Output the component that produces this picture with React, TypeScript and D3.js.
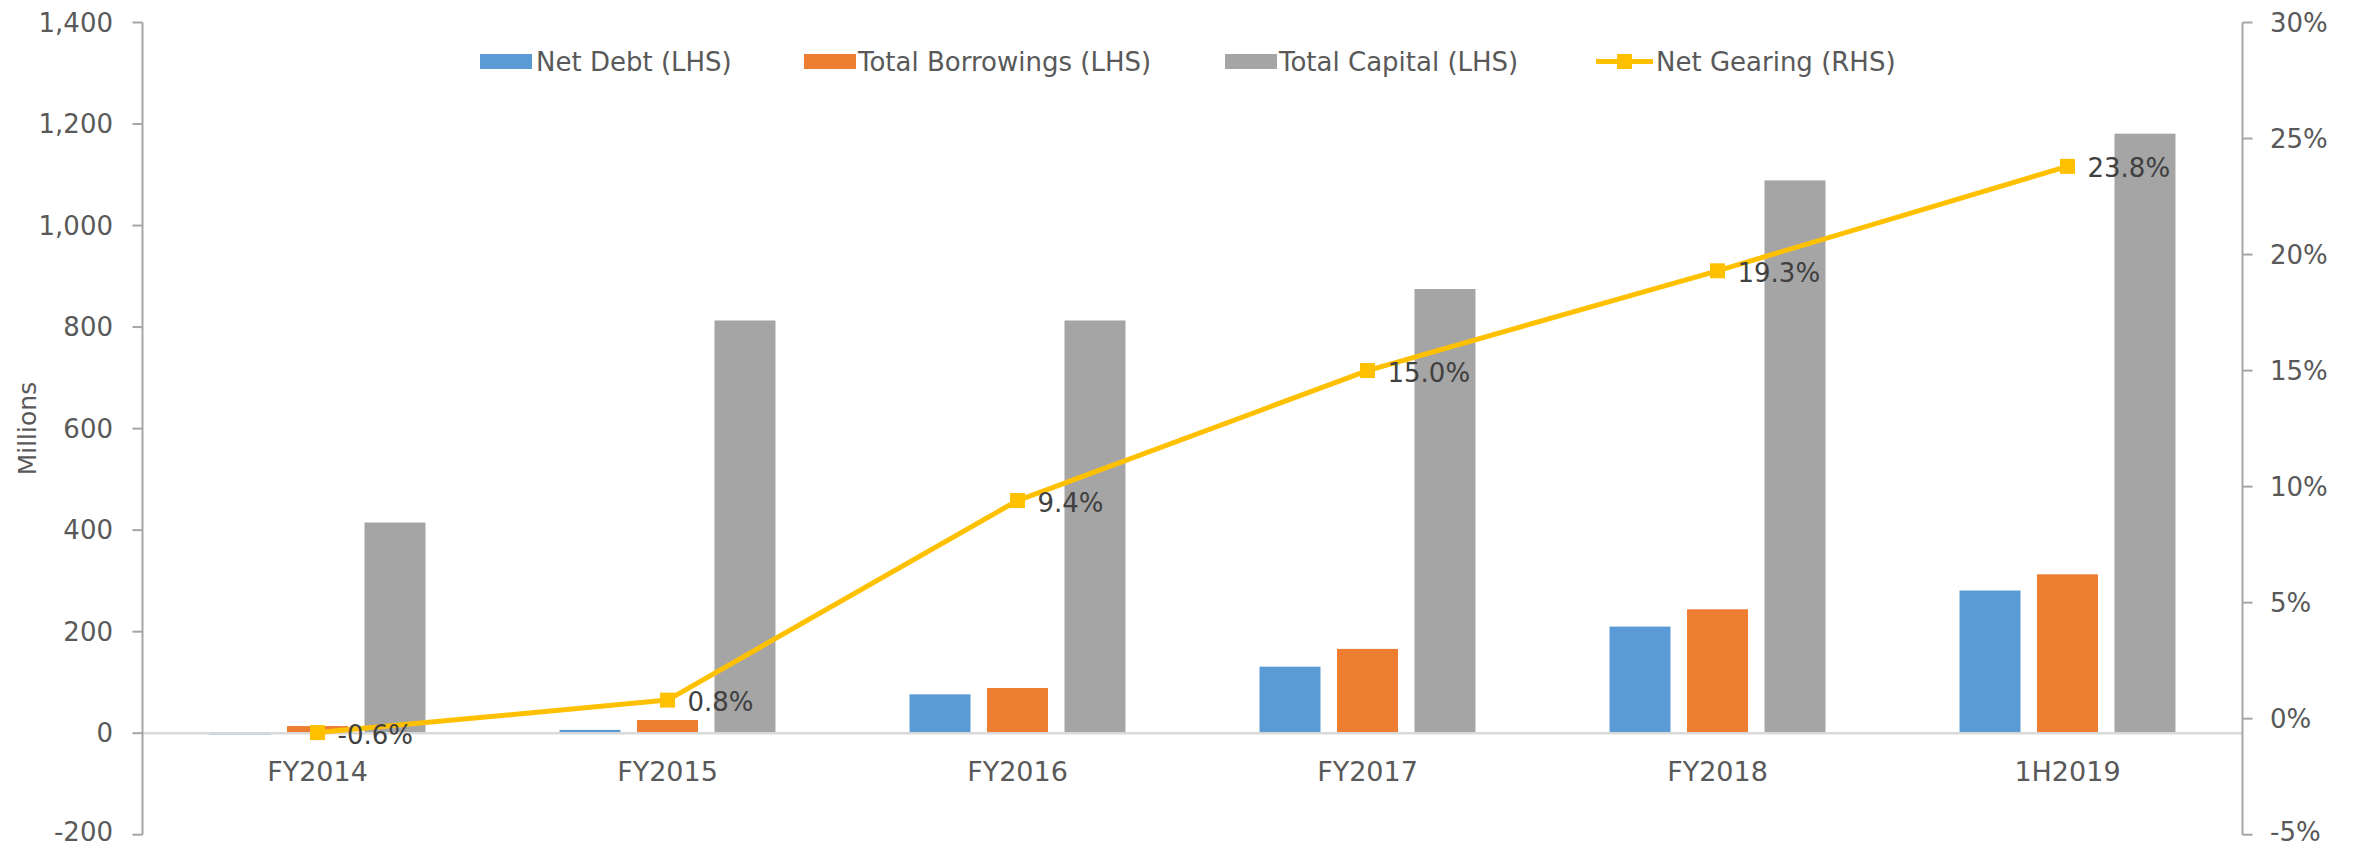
import React from "react";
import * as d3 from "d3";

const categories = ["FY2014", "FY2015", "FY2016", "FY2017", "FY2018", "1H2019"];
const netDebt = [-2.5, 6.5, 76.5, 131, 210, 281];
const totalBorrowings = [14, 26, 89, 166, 244, 313];
const totalCapital = [415, 813, 813, 875, 1089, 1181];
const netGearing = [-0.6, 0.8, 9.4, 15.0, 19.3, 23.8];
const leftTicks = [-200, 0, 200, 400, 600, 800, 1000, 1200, 1400];
const rightTicks = [-5, 0, 5, 10, 15, 20, 25, 30];
const seriesNames = ["Net Debt (LHS)", "Total Borrowings (LHS)", "Total Capital (LHS)"];
const lineName = "Net Gearing (RHS)";
const colors = ["#5B9BD5", "#ED7D31", "#A5A5A5"];
const lineColor = "#FFC000";

const W = 2354;
const H = 847;
const plotLeft = 142.5;
const plotRight = 2242.5;
const plotTop = 22.5;
const plotBottom = 834.7;
const FONT = "'DejaVu Sans', sans-serif";
const TEXT = "#595959";

const fmtLeft = (t: number) => (t < 0 ? "-" : "") + d3.format(",")(Math.abs(t));
const fmtRight = (t: number) => (t < 0 ? "-" : "") + `${Math.abs(t)}%`;

export default function App() {
  const x = d3.scaleBand<string>().domain(categories).range([plotLeft, plotRight]).paddingInner(0).paddingOuter(0);
  const yL = d3.scaleLinear().domain([-200, 1400]).range([plotBottom, plotTop]);
  const yR = d3.scaleLinear().domain([-5, 30]).range([plotBottom, plotTop]);
  const groupW = x.bandwidth() * 0.617;
  const x1 = d3.scaleBand<number>().domain([0, 1, 2]).range([-groupW / 2, groupW / 2]).paddingInner(0.213).paddingOuter(0);
  const series = [netDebt, totalBorrowings, totalCapital];
  const cx = (c: string) => (x(c) as number) + x.bandwidth() / 2;

  const line = d3
    .line<number>()
    .x((_, i) => cx(categories[i]))
    .y((d) => yR(d));

  const legendKeyX = [480, 804, 1225];
  const legendTextX = [536, 858, 1279];
  const legendLine = [1596, 1653];
  const legendLineText = 1656;
  const legendY = 61.5;
  const ms = 15;
  const labelY = (y: number) => Math.min(y, H - 15);

  return (
    <svg
      width={W}
      height={H}
      style={{ position: "absolute", left: 0, top: 0, background: "#fff" }}
      fontFamily={FONT}
    >
      {/* bars */}
      {series.map((vals, si) =>
        vals.map((v, i) => {
          const bx = cx(categories[i]) + (x1(si) as number);
          const y0 = yL(0);
          const yv = yL(v);
          return (
            <rect
              key={`b${si}-${i}`}
              x={bx}
              y={Math.min(y0, yv)}
              width={x1.bandwidth()}
              height={Math.max(0.5, Math.abs(y0 - yv))}
              fill={colors[si]}
            />
          );
        })
      )}

      {/* zero line (category axis) */}
      <line x1={plotLeft} x2={plotRight} y1={yL(0)} y2={yL(0)} stroke="#D9D9D9" strokeWidth={2.5} />

      {/* left axis */}
      <line x1={plotLeft} x2={plotLeft} y1={plotTop} y2={plotBottom} stroke="#A6A6A6" strokeWidth={2} />
      {leftTicks.map((t) => (
        <g key={`lt${t}`}>
          <line x1={plotLeft - 10} x2={plotLeft} y1={yL(t)} y2={yL(t)} stroke="#A6A6A6" strokeWidth={2} />
          <text x={113} y={labelY(yL(t))} textAnchor="end" dominantBaseline="central" fontSize={26} fill={TEXT}>
            {fmtLeft(t)}
          </text>
        </g>
      ))}
      <text
        transform={`translate(27, ${(plotTop + plotBottom) / 2}) rotate(-90)`}
        textAnchor="middle"
        dominantBaseline="central"
        fontSize={25}
        fill={TEXT}
      >
        Millions
      </text>

      {/* right axis */}
      <line x1={plotRight} x2={plotRight} y1={plotTop} y2={plotBottom} stroke="#A6A6A6" strokeWidth={2} />
      {rightTicks.map((t) => (
        <g key={`rt${t}`}>
          <line x1={plotRight} x2={plotRight + 10} y1={yR(t)} y2={yR(t)} stroke="#A6A6A6" strokeWidth={2} />
          <text x={2270} y={labelY(yR(t))} textAnchor="start" dominantBaseline="central" fontSize={26} fill={TEXT}>
            {fmtRight(t)}
          </text>
        </g>
      ))}

      {/* category labels */}
      {categories.map((c) => (
        <text key={`c${c}`} x={cx(c)} y={771} textAnchor="middle" dominantBaseline="central" fontSize={27} fill={TEXT}>
          {c}
        </text>
      ))}

      {/* line */}
      <path d={line(netGearing) as string} fill="none" stroke={lineColor} strokeWidth={5} strokeLinejoin="round" />
      {netGearing.map((v, i) => (
        <rect key={`m${i}`} x={cx(categories[i]) - ms / 2} y={yR(v) - ms / 2} width={ms} height={ms} fill={lineColor} />
      ))}
      {netGearing.map((v, i) => (
        <text
          key={`dl${i}`}
          x={cx(categories[i]) + 20}
          y={yR(v) + 2}
          dominantBaseline="central"
          fontSize={26}
          fill="#404040"
        >
          {`${v < 0 ? "-" : ""}${Math.abs(v).toFixed(1)}%`}
        </text>
      ))}

      {/* legend */}
      {seriesNames.map((n, i) => (
        <g key={`lg${i}`}>
          <rect x={legendKeyX[i]} y={legendY - 7.5} width={52} height={15} fill={colors[i]} />
          <text x={legendTextX[i]} y={legendY} dominantBaseline="central" fontSize={26} fill={TEXT}>
            {n}
          </text>
        </g>
      ))}
      <line x1={legendLine[0]} x2={legendLine[1]} y1={legendY} y2={legendY} stroke={lineColor} strokeWidth={5} />
      <rect
        x={(legendLine[0] + legendLine[1]) / 2 - ms / 2}
        y={legendY - ms / 2}
        width={ms}
        height={ms}
        fill={lineColor}
      />
      <text x={legendLineText} y={legendY} dominantBaseline="central" fontSize={26} fill={TEXT}>
        {lineName}
      </text>
    </svg>
  );
}
